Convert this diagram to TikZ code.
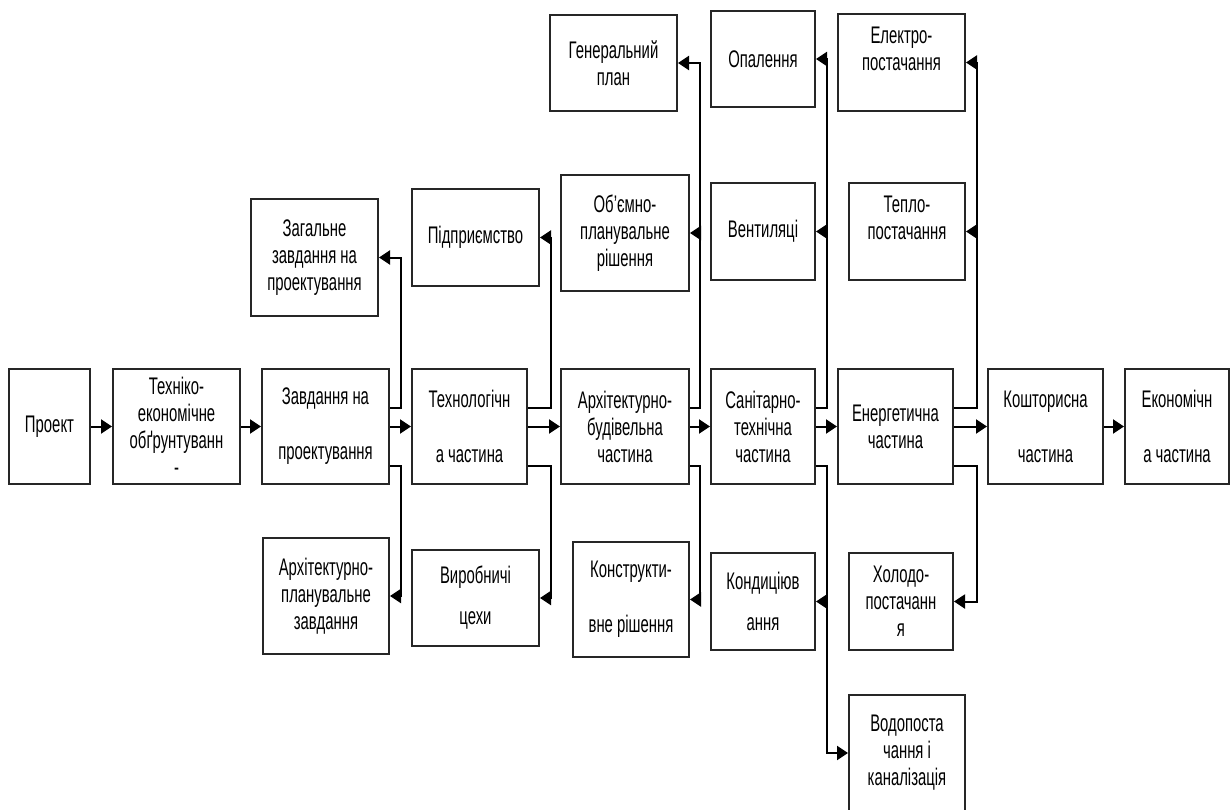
\documentclass[tikz,border=0pt]{standalone}
\usepackage{fontspec}
\setmainfont[FakeStretch=0.62]{Liberation Sans}
\usetikzlibrary{arrows.meta}

\begin{document}
\begin{tikzpicture}[x=0.5pt,y=-0.5pt,
	box/.style={draw=black!85,line width=1pt,inner sep=0pt,align=center,
		font=\fontsize{12}{13.5}\selectfont},
	sz/.style 2 args={minimum width=#1*0.5pt,minimum height=#2*0.5pt},
	link/.style={line width=1pt,-{Triangle[length=5.5pt,width=7pt]}}]
					\useasboundingbox (0,0) rectangle (1230,809);
					\clip (0,0) rectangle (1230,809);

					\node[box,sz={81}{115}] (proekt) at (49.5, 426.5) {Проект};
					\node[box,sz={127}{115}] (teo) at (176.5, 426.5) {Техніко-\\економічне\\обґрунтуванн\\-};
					\node[box,sz={127}{115}] (zavd) at (325.5, 426.5) {Завдання на\\[14pt]проектування};
					\node[box,sz={127}{117}] (zagal) at (314.5, 257.5) {Загальне\\завдання на\\проектування};
					\node[box,sz={126}{116}] (arpz) at (326, 596) {Архітектурно-\\планувальне\\завдання};

					\node[box,sz={115}{115}] (tekhn) at (469.5, 426.5) {Технологічн\\[14pt]а частина};
					\node[box,sz={127}{97}] (pidpr) at (475.5, 237.5) {Підприємство};
					\node[box,sz={127}{96}] (vyrob) at (475.5, 598) {Виробничі\\[7pt]цехи};

					\node[box,sz={128}{115}] (arkh) at (625, 426.5) {Архітектурно-\\будівельна\\частина};
					\node[box,sz={127}{96}] (genpl) at (613.5, 63) {Генеральний\\план};
					\node[box,sz={128}{116}] (obem) at (625, 233) {Об’ємно-\\планувальне\\рішення};
					\node[box,sz={116}{115}] (konstr) at (631, 599.5) {Конструкти-\\[14pt]вне рішення};

					\node[box,sz={104}{115}] (sanit) at (763, 426.5) {Санітарно-\\технічна\\частина};
					\node[box,sz={104}{96}] (opal) at (763, 59) {Опалення};
					\node[box,sz={104}{97}] (vent) at (763, 231.5) {Вентиляці};
					\node[box,sz={104}{97}] (kond) at (763, 601.5) {Кондиціюв\\[7pt]ання};
					\node[box,sz={116}{116}] (vodo) at (907, 753) {Водопоста\\чання і\\каналізація};

					\node[box,sz={115}{115}] (energ) at (895.5, 426.5) {Енергетична\\частина};
					\node[box,sz={127}{97}] (elektr) at (901.5, 62.5) {Електро-\\постачання\\ };
					\node[box,sz={116}{97}] (teplo) at (907, 231.5) {Тепло-\\постачання\\ };
					\node[box,sz={104}{97}] (kholod) at (901, 601.5) {Холодо-\\постачанн\\я};

					\node[box,sz={115}{115}] (koshtor) at (1045.5, 426.5) {Кошторисна\\[14pt]частина};
					\node[box,sz={104}{115}] (ekon) at (1177, 426.5) {Економічн\\[14pt]а частина};


					\draw[link] (proekt) to (teo);
					\draw[link] (teo) to (zavd);
					\draw[link] (zavd) to (tekhn);
					\draw[link] (tekhn) to (arkh);
					\draw[link] (arkh) to (sanit);
					\draw[link] (sanit) to (energ);
					\draw[link] (energ) to (koshtor);
					\draw[link] (koshtor) to (ekon);

					\draw[link] ([yshift=9.25pt]zavd.east) -- ++(11,0) |- (zagal.east);
					\draw[link] ([yshift=-19.75pt]zavd.east) -- ++(11,0) |- (arpz.east);

					\draw[link] ([yshift=9.25pt]tekhn.east) -- ++(23,0) |- (pidpr.east);
					\draw[link] ([yshift=-19.75pt]tekhn.east) -- ++(23,0) |- (vyrob.east);

					\draw[link] ([yshift=9.25pt]arkh.east) -- ++(10,0) |- (genpl.east);
					\draw[link] ([yshift=9.25pt]arkh.east) -- ++(10,0) |- (obem.east);
					\draw[link] ([yshift=-19.75pt]arkh.east) -- ++(10,0) |- (konstr.east);

					\draw[link] ([yshift=9.25pt]sanit.east) -- ++(11,0) |- (opal.east);
					\draw[link] ([yshift=9.25pt]sanit.east) -- ++(11,0) |- (vent.east);
					\draw[link] ([yshift=-19.75pt]sanit.east) -- ++(11,0) |- (kond.east);
					\draw[link] ([yshift=-19.75pt]sanit.east) -- ++(11,0) |- (vodo.west);

					\draw[link] ([yshift=9.25pt]energ.east) -- ++(23,0) |- (elektr.east);
					\draw[link] ([yshift=9.25pt]energ.east) -- ++(23,0) |- (teplo.east);
					\draw[link] ([yshift=-19.75pt]energ.east) -- ++(23,0) |- (kholod.east);
				\end{tikzpicture}
\end{document}
